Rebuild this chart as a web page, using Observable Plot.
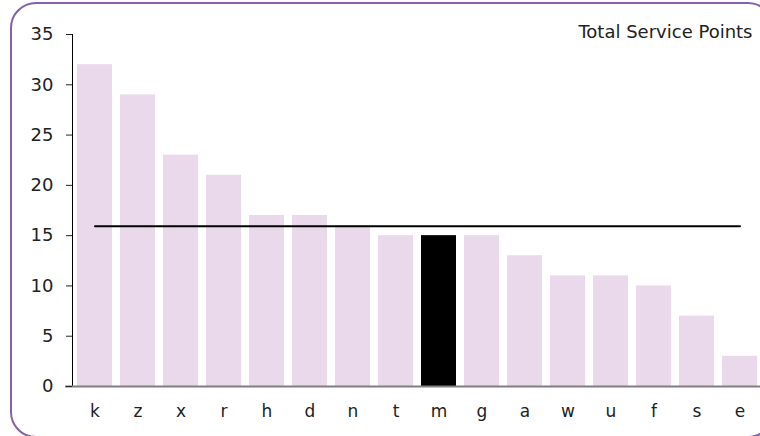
<!DOCTYPE html>
<html>
<head>
<meta charset="utf-8">
<script src="https://cdn.jsdelivr.net/npm/d3@7"></script>
<script src="https://cdn.jsdelivr.net/npm/@observablehq/plot@0.6"></script>
<style>
  html, body { margin: 0; padding: 0; background: #fff; overflow: hidden; }
  #wrap { position: relative; width: 760px; height: 436px; overflow: hidden; }
  #border { position: absolute; left: 10px; top: 2px; width: 760px; height: 432px;
            border: 2px solid #8660a8; border-radius: 26px; pointer-events: none; }
  #chart { position: absolute; left: 0; top: 0; }
</style>
</head>
<body>
<div id="wrap">
  <div id="chart"></div>
  <div id="border"></div>
</div>
<script>
const categories = ["k","z","x","r","h","d","n","t","m","g","a","w","u","f","s","e"];
const values = [32, 29, 23, 21, 17, 17, 16, 15, 15, 15, 13, 11, 11, 10, 7, 3];
const highlighted = "m";
const yTicks = [0, 5, 10, 15, 20, 25, 30, 35];
const title = "Total Service Points";

const rows = categories.map((c, i) => ({cat: c, value: values[i]}));
const avg = d3.mean(values);

const font = "DejaVu Sans, sans-serif";
const chart = Plot.plot({
  width: 760,
  height: 436,
  marginTop: 34,
  marginBottom: 50,
  marginLeft: 72,
  marginRight: 0,
  style: {fontFamily: font, fontSize: "18px", color: "#222", background: "transparent"},
  x: {domain: categories, paddingInner: 0.19, paddingOuter: 0.07, align: 0.65, label: null},
  y: {domain: [0, 35], label: null},
  marks: [
    Plot.barY(rows, {x: "cat", y: "value", fill: d => d.cat === highlighted ? "#000" : "#ead9eb"}),
    Plot.lineY(categories, {x: d => d, y: () => avg, stroke: "#000", strokeWidth: 2}),
    Plot.frame({anchor: "left", stroke: "#000"}),
    Plot.ruleY([0], {stroke: "#7f7f7f", strokeWidth: 2, insetLeft: -7}),
    Plot.axisY({ticks: yTicks, tickSize: 6, tickPadding: 13, fontSize: 18, fill: "#222"}),
    Plot.axisX({tickSize: 0, tickPadding: 18, fontSize: 17, fill: "#222"}),
    Plot.text([title], {frameAnchor: "top-right", dx: -8, dy: -2, lineAnchor: "middle", textAnchor: "end", fontSize: 18, fill: "#222"})
  ]
});
document.getElementById("chart").appendChild(chart);
</script>
</body>
</html>
